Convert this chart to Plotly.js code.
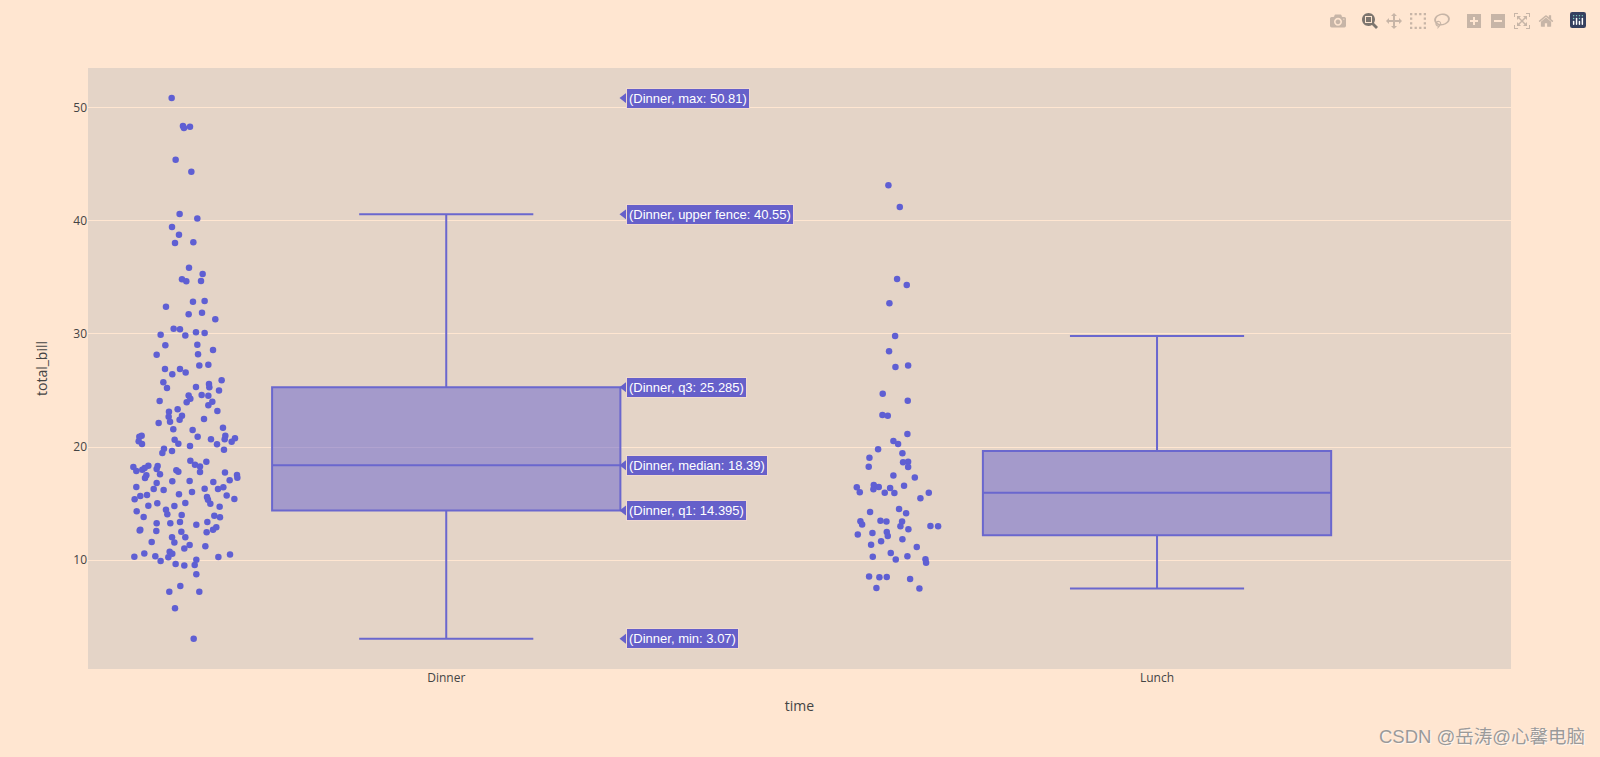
<!DOCTYPE html>
<html>
<head>
<meta charset="utf-8">
<script src="https://cdn.plot.ly/plotly-3.0.1.min.js"></script>
<style>
html,body{margin:0;padding:0;background:#ffe6d1;}
#chart{width:1600px;height:757px;}
.modebar{top:9px !important;right:10px !important;}
</style>
</head>
<body>
<div id="chart"></div>
<script>
var categories = ['Dinner', 'Lunch'];
var categoryPositions = [0, 1];
var lowerFence = [3.07, 7.51];
var q1 = [14.395, 12.2];
var median = [18.39, 15.965];
var q3 = [25.285, 19.65];
var upperFence = [40.55, 29.8];

// [horizontal position on the category axis, total_bill]
var dinnerPoints = [
[-.3863,50.81],[-.3704,48.35],[-.3690,48.17],[-.3605,48.29],[-.3807,45.37],[-.3586,44.31],[-.3751,40.58],[-.3502,40.19],
[-.3858,39.43],[-.3760,38.75],[-.3816,38.02],[-.3558,38.08],[-.3619,35.84],[-.3427,35.28],[-.3718,34.81],[-.3657,34.63],
[-.3450,34.66],[-.3563,32.84],[-.3399,32.90],[-.3943,32.39],[-.3624,31.72],[-.3436,31.86],[-.3249,31.28],[-.3835,30.45],
[-.3746,30.39],[-.3521,30.13],[-.3399,30.07],[-.4018,29.92],[-.3671,29.86],[-.3952,28.98],[-.3502,29.04],[-.3281,28.57],
[-.4074,28.16],[-.3492,28.19],[-.3474,27.19],[-.3347,27.27],[-.3957,26.89],[-.3746,26.89],
[-.3666,26.59],[-.3854,26.42],[-.3160,25.89],[-.3980,25.71],[-.3338,25.56],[-.3521,25.30],[-.3929,25.21],[-.3333,25.27],
[-.3197,25.00],[-.3624,24.56],[-.3441,24.59],[-.3347,24.53],[-.3600,24.27],[-.4032,24.06],[-.3291,24.00],[-.3652,23.95],
[-.3347,23.68],[-.3779,23.33],[-.3220,23.18],[-.3901,23.12],[-.3905,22.68],[-.3718,22.77],[-.3751,22.41],[-.3408,22.47],
[-.3886,22.24],[-.4046,22.12],[-.3141,21.71],[-.3840,21.56],[-.3568,21.50],[-.3108,21.00],[-.3497,20.91],[-.4285,21.00],
[-.4318,20.91],[-.3117,20.68],[-.2972,20.77],[-.3821,20.65],[-.3310,20.68],[-.4327,20.50],[-.4280,20.27],[-.3019,20.47],
[-.3769,20.30],[-.3225,20.24],[-.3605,20.09],[-.3971,19.85],[-.3127,19.77],[-.3994,19.47],[-.3858,19.65],[-.3600,18.79],
[-.3375,18.71],[-.3535,18.44],[-.3464,18.29],[-.4402,18.24],[-.4191,18.35],[-.4060,18.32],[-.4360,17.88],[-.4074,18.06],
[-.4276,18.00],[-.4243,18.15],[-.3797,17.94],[-.3769,17.82],[-.3464,17.79],[-.3113,17.76],[-.4027,17.59],[-.4219,17.50],
[-.4238,17.26],[-.2944,17.53],[-.2939,17.29],[-.3047,17.06],[-.3854,16.97],[-.3610,17.00],[-.3277,16.91],[-.4074,16.82],
[-.4360,16.47],[-.3136,16.44],[-.4116,16.29],[-.3399,16.32],[-.3211,16.29],[-.3976,16.21],[-.3577,16.03],[-.3760,15.82],
[-.4210,15.76],[-.4304,15.68],[-.3089,15.71],[-.4384,15.38],[-.3366,15.59],[-.3352,15.35],[-.2981,15.41],[-.3671,15.06],
[-.4065,15.03],[-.3319,15.00],[-.4191,14.82],[-.3825,14.79],[-.3188,14.73],[-.3943,14.47],[-.4355,14.32],[-.3924,14.06],
[-.3722,14.00],[-.4257,13.82],[-.3263,13.94],[-.3183,13.79],[-.3746,13.38],[-.3361,13.38],[-.4074,13.26],[-.3882,13.26],
[-.3516,13.14],[-.3235,12.91],[-.3281,12.70],[-.4304,12.70],[-.4313,12.64],[-.4079,12.59],[-.3727,12.53],[-.3371,12.47],
[-.3858,12.03],[-.3671,12.03],[-.4144,11.61],[-.3825,11.58],[-.3610,11.35],[-.3389,11.23],[-.3685,11.03],[-.3891,10.76],
[-.4248,10.61],[-.3854,10.58],[-.4093,10.35],[-.4388,10.32],[-.3910,10.26],[-.3206,10.29],[-.3042,10.50],[-.4018,9.94],
[-.3516,10.05],[-.3807,9.67],[-.3685,9.55],[-.3539,9.58],[-.3516,8.76],[-.3741,7.73],[-.3896,7.23],[-.3474,7.23],
[-.3816,5.76],[-.3553,3.07]
];
var lunchPoints = [
[.6221,43.11],[.6381,41.19],[.6343,34.84],[.6479,34.31],[.6235,32.69],[.6315,29.80],[.6230,28.45],[.6320,27.07],
[.6498,27.21],[.6141,24.71],[.6493,24.09],[.6137,22.83],[.6212,22.77],[.6488,21.15],[.6291,20.54],[.6357,20.27],
[.6076,19.80],[.6418,19.45],[.5954,19.06],[.6427,18.65],[.6498,18.71],[.5944,18.27],[.6498,18.24],[.6291,17.48],
[.6592,17.30],[.6015,16.65],[.6085,16.47],[.5776,16.45],[.6010,16.27],[.6245,16.39],[.6441,16.59],[.5818,16.00],
[.6169,15.97],[.6305,15.95],[.6789,15.97],[.6671,15.47],[.6371,14.53],[.5963,14.27],[.6470,14.15],[.5827,13.44],
[.5851,13.15],[.6109,13.50],[.6193,13.42],[.6413,13.42],[.6390,13.00],[.6812,13.03],[.6920,13.00],[.6502,12.74],
[.6198,12.50],[.5996,12.41],[.5790,12.27],[.6212,12.15],[.6418,11.85],[.6118,11.68],[.5977,11.38],[.6620,11.18],
[.6254,10.65],[.6001,10.32],[.6324,10.06],[.6488,10.35],[.6742,10.09],[.6751,9.79],[.5949,8.56],[.6094,8.50],
[.6198,8.53],[.6526,8.35],[.6052,7.56],[.6657,7.50]
];

var statNames = ['max', 'upper fence', 'q3', 'median', 'q1', 'min'];
var statValues = [50.81, 40.55, 25.285, 18.39, 14.395, 3.07];

var lineColor = '#6a67ce';
var labelColor = '#6660ca';
var pointColor = '#5f5fd3';
var tipPosition = 0.2522;
var allPoints = dinnerPoints.concat(lunchPoints);

var traces = [
  {
    type: 'box',
    x: categoryPositions,
    lowerfence: lowerFence, q1: q1, median: median, q3: q3, upperfence: upperFence,
    width: 0.49,
    boxpoints: false,
    whiskerwidth: 0.5,
    line: {color: lineColor, width: 2},
    fillcolor: 'rgba(100,95,208,0.5)',
    showlegend: false,
    hoverinfo: 'skip'
  },
  {
    type: 'scatter',
    mode: 'markers',
    x: allPoints.map(function (p) { return p[0]; }),
    y: allPoints.map(function (p) { return p[1]; }),
    marker: {color: pointColor, size: 6.5},
    showlegend: false,
    hoverinfo: 'skip'
  },
  {
    type: 'scatter',
    mode: 'markers',
    x: statValues.map(function () { return tipPosition; }),
    y: statValues,
    marker: {color: labelColor, size: 12, symbol: 'triangle-left'},
    showlegend: false,
    hoverinfo: 'skip'
  }
];

var annotations = statNames.map(function (name, i) {
  return {
    x: tipPosition, y: statValues[i], xref: 'x', yref: 'y',
    xanchor: 'left', yanchor: 'middle', xshift: 0, showarrow: false,
    height: 15,
    text: '(' + categories[0] + ', ' + name + ': ' + statValues[i] + ')',
    font: {family: 'Liberation Sans, Arial, sans-serif', size: 13, color: '#ffffff'},
    bgcolor: labelColor, bordercolor: '#efd9d0', borderwidth: 1, borderpad: 2
  };
});
annotations.push({
  xref: 'paper', yref: 'paper', x: 1.0535, y: -0.112, xanchor: 'right', yanchor: 'middle',
  showarrow: false, text: 'CSDN @岳涛@心馨电脑',
  font: {family: 'Liberation Sans, Noto Sans CJK SC, sans-serif', size: 18.5, color: '#9a9a9a', shadow: '1px 1px 1px rgba(255,255,255,0.7)'}
});

var layout = {
  width: 1600, height: 757,
  margin: {l: 88, r: 89, t: 68, b: 88},
  paper_bgcolor: '#ffe6d1',
  plot_bgcolor: '#e4d4c7',
  font: {family: '"Open Sans", verdana, arial, sans-serif', color: '#444', size: 12},
  hovermode: 'x',
  dragmode: 'zoom',
  xaxis: {
    title: {text: 'time', font: {size: 14}, standoff: 16},
    range: [-0.504, 1.498], tickvals: categoryPositions, ticktext: categories,
    showgrid: false, zeroline: false, ticks: ''
  },
  yaxis: {
    title: {text: 'total_bill', font: {size: 14}, standoff: 22},
    range: [0.4, 53.47], tickvals: [10, 20, 30, 40, 50],
    gridcolor: '#ffe6d1', gridwidth: 1, zeroline: false, ticks: ''
  },
  annotations: annotations
};

Plotly.newPlot('chart', traces, layout, {
  displayModeBar: true,
  displaylogo: true,
  responsive: false,
  modeBarButtons: [['toImage'], ['zoom2d', 'pan2d', 'select2d', 'lasso2d'], ['zoomIn2d', 'zoomOut2d', 'autoScale2d', 'resetScale2d']]
}).then(function () {
  var logo = document.querySelector('.modebar-btn--logo svg');
  if (!logo) return;
  logo.querySelectorAll('path, rect, circle, polygon').forEach(function (el) {
    var fill = getComputedStyle(el).fill;
    var nums = (fill.match(/\d+/g) || []).map(Number);
    var isWhite = nums.length >= 3 && nums[0] > 240 && nums[1] > 240 && nums[2] > 240;
    var isBlack = nums.length >= 3 && nums[0] < 30 && nums[1] < 30 && nums[2] < 30;
    if (isBlack) el.style.setProperty('fill', '#36405f', 'important');
    else if (!isWhite) el.style.setProperty('fill', '#80cfbe', 'important');
  });
});
</script>
</body>
</html>
